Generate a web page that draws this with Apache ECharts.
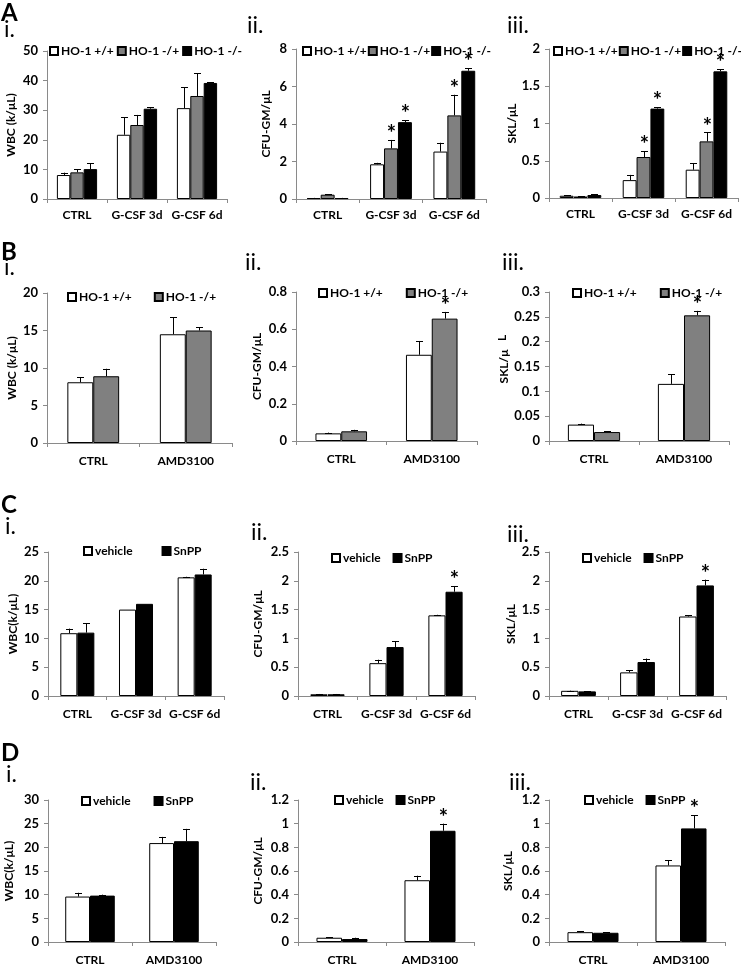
<!DOCTYPE html>
<html><head><meta charset="utf-8">
<script src="https://cdn.jsdelivr.net/npm/echarts/dist/echarts.min.js"></script>
<style>html,body{margin:0;padding:0;background:#fff}#c{width:741px;height:966px}</style>
</head><body><div id="c"></div><script>
// ---------- categories & groups ----------
const catsGCSF = ['CTRL', 'G-CSF 3d', 'G-CSF 6d'];
const catsAMD = ['CTRL', 'AMD3100'];
const groupsHO3 = ['HO-1 +/+', 'HO-1 -/+', 'HO-1 -/-'];
const groupsHO2 = ['HO-1 +/+', 'HO-1 -/+'];
const groupsSn = ['vehicle', 'SnPP'];

// ---------- y tick labels ----------
const ticksA1 = [0, 10, 20, 30, 40, 50];
const ticksA2 = [0, 2, 4, 6, 8];
const ticksA3 = [0, 0.5, 1, 1.5, 2];
const ticksB1 = [0, 5, 10, 15, 20];
const ticksB2 = [0, 0.2, 0.4, 0.6, 0.8];
const ticksB3 = [0, 0.05, 0.1, 0.15, 0.2, 0.25, 0.3];
const ticksC1 = [0, 5, 10, 15, 20, 25];
const ticksC2 = [0, 0.5, 1, 1.5, 2, 2.5];
const ticksC3 = [0, 0.5, 1, 1.5, 2, 2.5];
const ticksD1 = [0, 5, 10, 15, 20, 25, 30];
const ticksD2 = [0, 0.2, 0.4, 0.6, 0.8, 1, 1.2];
const ticksD3 = [0, 0.2, 0.4, 0.6, 0.8, 1, 1.2];

// ---------- values (mean), errors (+SD) and significance ----------
// A.i WBC
const A1_wt = [8.1, 21.7, 30.7],  A1_wtErr = [0.8, 6.0, 7.1];
const A1_het = [9.0, 25.0, 34.8], A1_hetErr = [1.0, 3.4, 7.6];
const A1_ko = [10.1, 30.5, 39.2], A1_koErr = [1.9, 0.5, 0.2];
// A.ii CFU-GM
const A2_wt = [0.05, 1.85, 2.53], A2_wtErr = [0.01, 0.08, 0.47];
const A2_het = [0.23, 2.7, 4.46], A2_hetErr = [0.03, 0.45, 1.1];
const A2_ko = [0.05, 4.1, 6.84],  A2_koErr = [0.01, 0.1, 0.14];
const A2_hetSig = [0, 1, 1], A2_koSig = [0, 1, 1];
// A.iii SKL
const A3_wt = [0.03, 0.24, 0.38], A3_wtErr = [0.005, 0.07, 0.09];
const A3_het = [0.02, 0.55, 0.76], A3_hetErr = [0.005, 0.08, 0.12];
const A3_ko = [0.04, 1.2, 1.7],   A3_koErr = [0.01, 0.02, 0.03];
const A3_hetSig = [0, 1, 1], A3_koSig = [0, 1, 1];
// B.i WBC
const B1_wt = [8.1, 14.5], B1_wtErr = [0.65, 2.3];
const B1_het = [8.9, 15.0], B1_hetErr = [1.0, 0.45];
// B.ii CFU-GM
const B2_wt = [0.041, 0.463], B2_wtErr = [0.004, 0.074];
const B2_het = [0.052, 0.657], B2_hetErr = [0.008, 0.036];
const B2_hetSig = [0, 1];
// B.iii SKL
const B3_wt = [0.033, 0.115], B3_wtErr = [0.002, 0.019];
const B3_het = [0.018, 0.253], B3_hetErr = [0.0015, 0.009];
const B3_hetSig = [0, 1];
// C.i WBC
const C1_veh = [10.9, 15.0, 20.6], C1_vehErr = [0.8, 0, 0.1];
const C1_sn = [11.0, 16.0, 21.1],  C1_snErr = [1.6, 0, 1.0];
// C.ii CFU-GM
const C2_veh = [0.03, 0.57, 1.4], C2_vehErr = [0.005, 0.06, 0.01];
const C2_sn = [0.03, 0.85, 1.81], C2_snErr = [0.005, 0.1, 0.1];
const C2_snSig = [0, 0, 1];
// C.iii SKL
const C3_veh = [0.09, 0.41, 1.38], C3_vehErr = [0.005, 0.04, 0.02];
const C3_sn = [0.08, 0.59, 1.92],  C3_snErr = [0.005, 0.06, 0.1];
const C3_snSig = [0, 0, 1];
// D.i WBC
const D1_veh = [9.6, 20.9], D1_vehErr = [0.8, 1.3];
const D1_sn = [9.8, 21.3],  D1_snErr = [0.2, 2.6];
// D.ii CFU-GM
const D2_veh = [0.036, 0.522], D2_vehErr = [0.006, 0.038];
const D2_sn = [0.025, 0.94],   D2_snErr = [0.011, 0.06];
const D2_snSig = [0, 1];
// D.iii SKL
const D3_veh = [0.083, 0.647], D3_vehErr = [0.006, 0.043];
const D3_sn = [0.078, 0.96],   D3_snErr = [0.003, 0.11];
const D3_snSig = [0, 1];

// ---------- styling ----------
const FONT = 'Lato';
const fillWhite = '#ffffff', fillGrey = '#808080', fillBlack = '#000000';
const AXIS_COLOR = '#8a8a8a';

// ---------- panel layouts ----------
const panels = [
  {grid:[47,51,180,148], cats:catsGCSF, names:groupsHO3, fills:[fillWhite,fillGrey,fillBlack],
   vals:[A1_wt,A1_het,A1_ko], errs:[A1_wtErr,A1_hetErr,A1_koErr], sig:[null,null,null],
   ticks:ticksA1, yName:'WBC (k/μL)', nameGap:30, gap:0.33, leg:[49,51,3], xMargin:10},
  {grid:[296,49,190,150], cats:catsGCSF, names:groupsHO3, fills:[fillWhite,fillGrey,fillBlack],
   vals:[A2_wt,A2_het,A2_ko], errs:[A2_wtErr,A2_hetErr,A2_koErr], sig:[null,A2_hetSig,A2_koSig],
   ticks:ticksA2, yName:'CFU-GM/μL', nameGap:24, gap:0.34, leg:[302,51,1], xMargin:10},
  {grid:[549,49,189,149], cats:catsGCSF, names:groupsHO3, fills:[fillWhite,fillGrey,fillBlack],
   vals:[A3_wt,A3_het,A3_ko], errs:[A3_wtErr,A3_hetErr,A3_koErr], sig:[null,A3_hetSig,A3_koSig],
   ticks:ticksA3, yName:'SKL/μL', nameGap:24, gap:0.34, leg:[553,51,1], xMargin:10},

  {grid:[47,293,185,150], cats:catsAMD, names:groupsHO2, fills:[fillWhite,fillGrey],
   vals:[B1_wt,B1_het], errs:[B1_wtErr,B1_hetErr], sig:[null,null],
   ticks:ticksB1, yName:'WBC (k/μL)', nameGap:29, gap:0.44, leg:[67,297,22], xMargin:12},
  {grid:[296,292,181,149], cats:catsAMD, names:groupsHO2, fills:[fillWhite,fillGrey],
   vals:[B2_wt,B2_het], errs:[B2_wtErr,B2_hetErr], sig:[null,B2_hetSig],
   ticks:ticksB2, yName:'CFU-GM/μL', nameGap:33, gap:0.43, leg:[318,293,23], xMargin:12},
  {grid:[549,292,180,149], cats:catsAMD, names:groupsHO2, fills:[fillWhite,fillGrey],
   vals:[B3_wt,B3_het], errs:[B3_wtErr,B3_hetErr], sig:[null,B3_hetSig],
   ticks:ticksB3, yName:'SKL/μ', nameGap:37, gap:0.42, leg:[572,293,23], xMargin:12},

  {grid:[48,552,176,144], cats:catsGCSF, names:groupsSn, fills:[fillWhite,fillBlack],
   vals:[C1_veh,C1_sn], errs:[C1_vehErr,C1_snErr], sig:[null,null],
   ticks:ticksC1, yName:'WBC(k/μL)', nameGap:29, gap:0.42, leg:[83,551,29], xMargin:12},
  {grid:[298,552,177,144], cats:catsGCSF, names:groupsSn, fills:[fillWhite,fillBlack],
   vals:[C2_veh,C2_sn], errs:[C2_vehErr,C2_snErr], sig:[null,C2_snSig],
   ticks:ticksC2, yName:'CFU-GM/μL', nameGap:34, gap:0.42, leg:[331,558,12], xMargin:12},
  {grid:[549,552,177,144], cats:catsGCSF, names:groupsSn, fills:[fillWhite,fillBlack],
   vals:[C3_veh,C3_sn], errs:[C3_vehErr,C3_snErr], sig:[null,C3_snSig],
   ticks:ticksC3, yName:'SKL/μL', nameGap:32, gap:0.41, leg:[582,558,12], xMargin:12},

  {grid:[48,800,168,144], cats:catsAMD, names:groupsSn, fills:[fillWhite,fillBlack],
   vals:[D1_veh,D1_sn], errs:[D1_vehErr,D1_snErr], sig:[null,null],
   ticks:ticksD1, yName:'WBC(k/μL)', nameGap:33, gap:0.41, leg:[81,801,23], xMargin:12},
  {grid:[298,800,176,144], cats:catsAMD, names:groupsSn, fills:[fillWhite,fillBlack],
   vals:[D2_veh,D2_sn], errs:[D2_vehErr,D2_snErr], sig:[null,D2_snSig],
   ticks:ticksD2, yName:'CFU-GM/μL', nameGap:34, gap:0.42, leg:[334,800,12], xMargin:12},
  {grid:[549,800,176,144], cats:catsAMD, names:groupsSn, fills:[fillWhite,fillBlack],
   vals:[D3_veh,D3_sn], errs:[D3_vehErr,D3_snErr], sig:[null,D3_snSig],
   ticks:ticksD3, yName:'SKL/μL', nameGap:35, gap:0.42, leg:[584,800,12], xMargin:12}
];

// section / panel labels
const sectionLabels = [['A',1,13],['B',1,252],['C',1,505],['D',1,753]];
const panelLabels = [
  ['i.',4,30],['ii.',247,26],['iii.',507,26],
  ['i.',4,268],['ii.',245,263],['iii.',502,263],
  ['i.',5,527],['ii.',251,533],['iii.',507,535],
  ['i.',6,775],['ii.',250,783],['iii.',509,783]
];

function errRender(si, n, gap) {
  return function (params, api) {
    const ci = api.value(0), v = api.value(1), e = api.value(2), s = api.value(3);
    const base = api.coord([ci, v]);
    const top = api.coord([ci, v + e]);
    const bw = api.size([1, 0])[0];
    const gw = bw * (1 - gap);
    const x = Math.round(base[0] - gw / 2 + gw / n * (si + 0.5)) + 0.5;
    const ch = [];
    if (e > 0) {
      ch.push({type:'line', shape:{x1:x, y1:base[1], x2:x, y2:top[1]}, style:{stroke:'#000', lineWidth:1}});
      ch.push({type:'line', shape:{x1:x-3.5, y1:Math.round(top[1])+0.5, x2:x+3.5, y2:Math.round(top[1])+0.5}, style:{stroke:'#000', lineWidth:1}});
    }
    if (s) {
      ch.push({type:'text', x:x, y:top[1] + 5, style:{text:'*', font:'bold 22px ' + FONT, textAlign:'center', textVerticalAlign:'bottom', fill:'#000'}});
    }
    return {type:'group', children:ch};
  };
}

const option = {
  animation:false,
  backgroundColor:'#fff',
  grid:[], xAxis:[], yAxis:[], series:[], legend:[], graphic:[]
};

panels.forEach((p, i) => {
  option.grid.push({left:p.grid[0], top:p.grid[1], width:p.grid[2], height:p.grid[3], containLabel:false});
  option.xAxis.push({
    gridIndex:i, type:'category', data:p.cats,
    axisLine:{lineStyle:{color:AXIS_COLOR, width:1}},
    axisTick:{show:true, length:4, interval:0, lineStyle:{color:AXIS_COLOR}},
    axisLabel:{interval:0, margin:p.xMargin, color:'#000', fontFamily:FONT, fontWeight:'bold', fontSize:12}
  });
  const t = p.ticks;
  option.yAxis.push({
    gridIndex:i, type:'value', min:t[0], max:t[t.length-1], interval:t[1]-t[0],
    name:p.yName, nameLocation:'middle', nameGap:p.nameGap, nameRotate:90,
    nameTextStyle:{color:'#000', fontFamily:FONT, fontWeight:'bold', fontSize:12},
    axisLine:{show:true, lineStyle:{color:AXIS_COLOR, width:1}},
    axisTick:{show:true, length:4, lineStyle:{color:AXIS_COLOR}},
    splitLine:{show:false},
    axisLabel:{margin:9, color:'#000', fontFamily:FONT, fontWeight:'bold', fontSize:13,
      formatter:v => String(+v.toFixed(3))}
  });
  option.legend.push({
    left:p.leg[0], top:p.leg[1]-7, width:260, itemWidth:8, itemHeight:8, itemGap:p.leg[2],
    icon:'rect', selectedMode:false, padding:0,
    textStyle:{color:'#000', fontFamily:FONT, fontWeight:'bold', fontSize:12, lineHeight:14, padding:[0,0,0,-2]},
    data:p.names.map(n => ({name:n}))
  });
  const n = p.names.length;
  p.names.forEach((name, si) => {
    option.series.push({
      type:'bar', name:name, xAxisIndex:i, yAxisIndex:i,
      data:p.vals[si], barGap:'0%', barCategoryGap:(p.gap*100)+'%',
      itemStyle:{color:p.fills[si], borderColor:'#000', borderWidth:1},
      emphasis:{disabled:true}
    });
  });
  p.names.forEach((name, si) => {
    option.series.push({
      type:'custom', xAxisIndex:i, yAxisIndex:i, clip:false, z:5,
      renderItem:errRender(si, n, p.gap),
      data:p.vals[si].map((v, ci) => [ci, v, p.errs[si][ci], p.sig[si] ? p.sig[si][ci] : 0])
    });
  });
});

sectionLabels.forEach(l => option.graphic.push({
  type:'text', x:l[1], y:l[2],
  style:{text:l[0], font:'bold 24px ' + FONT, fill:'#000', textVerticalAlign:'middle'}
}));
panelLabels.forEach(l => option.graphic.push({
  type:'text', x:l[1], y:l[2],
  style:{text:l[0], font:'23px ' + FONT, fill:'#000', textVerticalAlign:'middle'}
}));
// stray rotated "L" of the SKL/μL label in panel B.iii
option.graphic.push({
  type:'text', x:502, y:338, rotation:Math.PI/2,
  style:{text:'L', font:'bold 12px ' + FONT, fill:'#000', textAlign:'center', textVerticalAlign:'middle'}
});

const chart = echarts.init(document.getElementById('c'), null, {renderer:'canvas'});
chart.setOption(option);
</script></body></html>
